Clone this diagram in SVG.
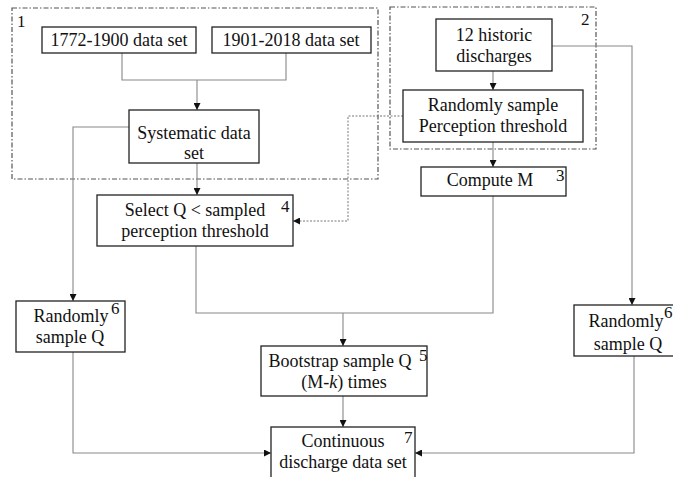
<svg xmlns="http://www.w3.org/2000/svg" width="673" height="477" viewBox="0 0 673 477">
<defs>
<style>
.box{fill:#fff;stroke:#222;stroke-width:1.3}
.grp{fill:none;stroke:#555;stroke-width:1.2;stroke-dasharray:5 2 1.5 2}
.t{font-family:'Liberation Serif','DejaVu Serif',serif;font-size:18px;fill:#111;text-anchor:middle}
.n{font-family:'Liberation Serif','DejaVu Serif',serif;font-size:17px;fill:#111}
.c{fill:none;stroke:#888;stroke-width:1.1}
.d{fill:none;stroke:#777;stroke-width:1;stroke-dasharray:2 1.5}
</style>
<marker id="ah" viewBox="0 0 8 8" refX="8" refY="4" markerWidth="7" markerHeight="7" markerUnits="userSpaceOnUse" orient="auto">
<path d="M0,0 L8,4 L0,8 z" fill="#111"/>
</marker>
</defs>
<rect width="673" height="477" fill="#fff"/>
<g id="group1"><rect class="grp" x="12" y="8" width="366" height="171"/><text class="n" x="17" y="27">1</text></g>
<g id="group2"><rect class="grp" x="390" y="7" width="206" height="142"/><text class="n" x="581" y="25">2</text></g>
<g id="connectors">
<path class="c" d="M122,53 V80 H286 V53"/>
<path class="c" d="M197,80 V110" marker-end="url(#ah)"/>
<path class="c" d="M129,127 H73 V301" marker-end="url(#ah)"/>
<path class="c" d="M197,163 V195" marker-end="url(#ah)"/>
<path class="c" d="M493,71 V90" marker-end="url(#ah)"/>
<path class="c" d="M552,46 H632 V305" marker-end="url(#ah)"/>
<path class="c" d="M493,142 V167" marker-end="url(#ah)"/>
<path class="d" d="M403,116 H348 V221 H293" marker-end="url(#ah)"/>
<path class="c" d="M196,246 V313 H493 V196"/>
<path class="c" d="M343,313 V346" marker-end="url(#ah)"/>
<path class="c" d="M343,396 V427" marker-end="url(#ah)"/>
<path class="c" d="M73,352 V453 H271" marker-end="url(#ah)"/>
<path class="c" d="M634,356 V453 H415" marker-end="url(#ah)"/>
</g>
<g id="n1772"><rect class="box" x="42" y="27" width="154" height="26"/><text class="t" x="119" y="46">1772-1900 data set</text></g>
<g id="n1901"><rect class="box" x="212" y="27" width="159" height="26"/><text class="t" x="291" y="46">1901-2018 data set</text></g>
<g id="nSystematic"><rect class="box" x="129" y="110" width="130" height="53"/><text class="t" x="194" y="139">Systematic data</text><text class="t" x="194" y="159">set</text></g>
<g id="nHistoric"><rect class="box" x="436" y="19" width="116" height="52"/><text class="t" x="494" y="41">12 historic</text><text class="t" x="494" y="62">discharges</text></g>
<g id="nRandomPT"><rect class="box" x="403" y="90" width="180" height="52"/><text class="t" x="493" y="111">Randomly sample</text><text class="t" x="493" y="132">Perception threshold</text></g>
<g id="nComputeM"><rect class="box" x="421" y="167" width="145" height="29"/><text class="t" x="490" y="186">Compute M</text><text class="n" x="556" y="181">3</text></g>
<g id="nSelectQ"><rect class="box" x="97" y="195" width="196" height="51"/><text class="t" x="195" y="216">Select Q &lt; sampled</text><text class="t" x="195" y="237">perception threshold</text><text class="n" x="281" y="212">4</text></g>
<g id="nBootstrap"><rect class="box" x="261" y="346" width="166" height="50"/><text class="t" x="340" y="367">Bootstrap sample Q</text><text class="t" x="344" y="388">(M-<tspan font-style="italic">k</tspan>) times</text><text class="n" x="419" y="361">5</text></g>
<g id="nContinuous"><rect class="box" x="271" y="427" width="144" height="60"/><text class="t" x="343" y="447">Continuous</text><text class="t" x="343" y="468">discharge data set</text><text class="n" x="404" y="443">7</text></g>
<g id="nLeftRand"><rect class="box" x="16" y="301" width="109" height="51"/><text class="t" x="71" y="322">Randomly</text><text class="t" x="70" y="343">sample Q</text><text class="n" x="111" y="314">6</text></g>
<g id="nRightRand"><rect class="box" x="574" y="305" width="110" height="51"/><text class="t" x="626" y="327">Randomly</text><text class="t" x="628" y="350">sample Q</text><text class="n" x="664" y="318">6</text></g>
</svg>
